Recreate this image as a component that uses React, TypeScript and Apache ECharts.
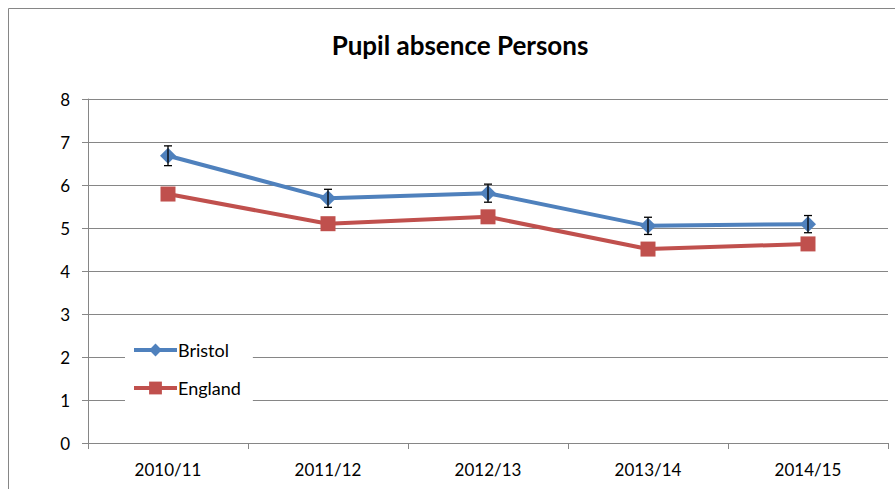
import React, { useEffect, useRef } from "react";
import * as echarts from "echarts";

const categories = ["2010/11", "2011/12", "2012/13", "2013/14", "2014/15"];
const bristol = [6.68, 5.69, 5.81, 5.05, 5.09];
const england = [5.79, 5.1, 5.26, 4.51, 4.63];
const bristolErr = [0.23, 0.21, 0.21, 0.2, 0.2];
const yTicks = [0, 1, 2, 3, 4, 5, 6, 7, 8];

const FONT = "Lato";
const AXIS = "#868686";

export default function App() {
  const ref = useRef<HTMLDivElement>(null);
  useEffect(() => {
    const chart = echarts.init(ref.current!, null, { renderer: "svg" });
    chart.setOption({
      animation: false,
      backgroundColor: "#fff",
      textStyle: { fontFamily: FONT },
      title: {
        text: "Pupil absence Persons",
        left: 455,
        textAlign: "center",
        top: 27,
        textStyle: { fontFamily: FONT, fontSize: 26, fontWeight: "bold", color: "#000" },
      },
      graphic: [
        {
          type: "rect",
          shape: { x: 8.5, y: 8.5, width: 900, height: 500 },
          style: { fill: "none", stroke: AXIS, lineWidth: 1 },
          silent: true,
          z: 0,
        },
      ],
      grid: { left: 88, right: 7, top: 99, bottom: 46, containLabel: false },
      xAxis: {
        type: "category",
        data: categories,
        boundaryGap: true,
        axisLine: { lineStyle: { color: AXIS, width: 1 } },
        axisTick: { show: true, length: 6, alignWithLabel: false, lineStyle: { color: AXIS } },
        axisLabel: { color: "#000", fontSize: 17, fontFamily: FONT, margin: 18 },
        splitLine: { show: false },
      },
      yAxis: {
        type: "value",
        min: 0,
        max: 8,
        interval: 1,
        axisLine: { show: true, lineStyle: { color: AXIS, width: 1 } },
        axisTick: { show: true, length: 6, lineStyle: { color: AXIS } },
        axisLabel: {
          color: "#000",
          fontSize: 17,
          fontFamily: FONT,
          margin: 18,
          formatter: (v: number) => (yTicks.includes(v) ? String(v) : ""),
        },
        splitLine: { show: true, lineStyle: { color: AXIS, width: 1 } },
      },
      legend: {
        orient: "vertical",
        left: 125,
        top: 335,
        itemWidth: 43,
        itemHeight: 16,
        itemGap: 20,
        padding: [6, 12, 6, 7],
        backgroundColor: "#fff",
        lineStyle: { width: 4 },
        textStyle: { fontFamily: FONT, fontSize: 18, color: "#000", padding: [0, 0, 0, -4] },
        data: ["Bristol", "England"],
      },
      series: [
        {
          name: "England",
          type: "line",
          data: england,
          symbol: "rect",
          symbolSize: 15,
          lineStyle: { color: "#C0504D", width: 4 },
          itemStyle: { color: "#C0504D" },
          z: 3,
        },
        {
          name: "Bristol",
          type: "line",
          data: bristol,
          symbol: "diamond",
          symbolSize: 16,
          lineStyle: { color: "#4F81BD", width: 4 },
          itemStyle: { color: "#4F81BD" },
          z: 4,
        },
        {
          name: "BristolErr",
          type: "custom",
          data: bristol.map((v, i) => [i, v - bristolErr[i], v + bristolErr[i]]),
          z: 5,
          renderItem: (params: any, api: any) => {
            const x = api.value(0);
            const lo = api.coord([x, api.value(1)]);
            const hi = api.coord([x, api.value(2)]);
            const w = 4;
            const style = { stroke: "#000", lineWidth: 1.3 };
            return {
              type: "group",
              children: [
                { type: "line", shape: { x1: lo[0], y1: lo[1], x2: hi[0], y2: hi[1] }, style },
                { type: "line", shape: { x1: lo[0] - w, y1: lo[1], x2: lo[0] + w, y2: lo[1] }, style },
                { type: "line", shape: { x1: hi[0] - w, y1: hi[1], x2: hi[0] + w, y2: hi[1] }, style },
              ],
            };
          },
        },
      ],
    });
    return () => chart.dispose();
  }, []);
  return (
    <div
      ref={ref}
      style={{ position: "absolute", left: 0, top: 0, width: 895, height: 489 }}
    />
  );
}
